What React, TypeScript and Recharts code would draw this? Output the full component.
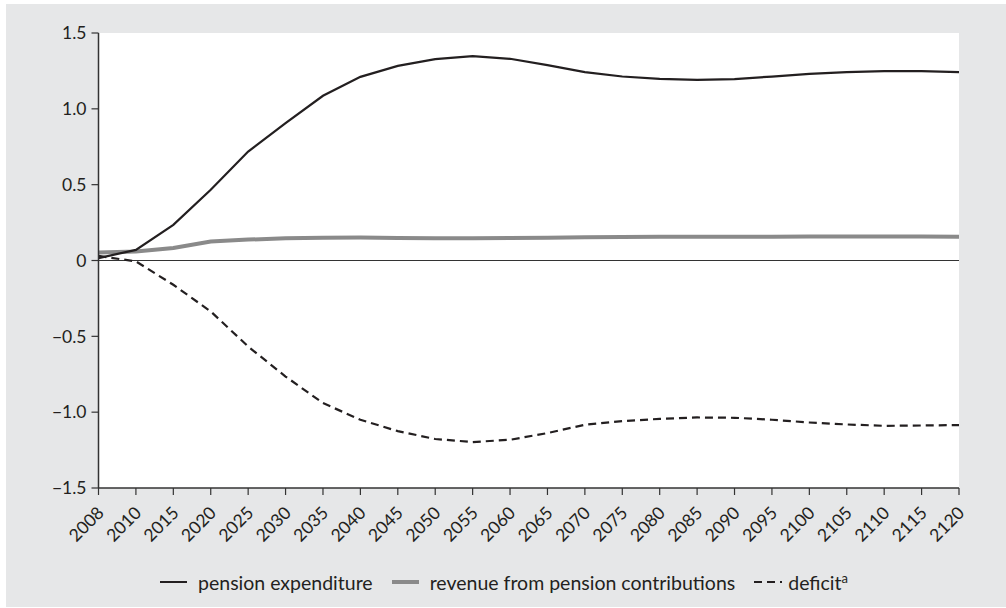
import { LineChart, Line, XAxis, YAxis, CartesianGrid, Legend, ReferenceLine } from 'recharts';

const years = ['2008', '2010', '2015', '2020', '2025', '2030', '2035', '2040', '2045', '2050', '2055', '2060',
  '2065', '2070', '2075', '2080', '2085', '2090', '2095', '2100', '2105', '2110', '2115', '2120'];

const expenditure = [0.016, 0.07, 0.235, 0.466, 0.718, 0.906, 1.086, 1.211, 1.283, 1.328, 1.347, 1.33,
  1.288, 1.242, 1.213, 1.198, 1.191, 1.196, 1.213, 1.231, 1.242, 1.248, 1.248, 1.242];

const revenue = [0.053, 0.06, 0.082, 0.125, 0.138, 0.146, 0.15, 0.151, 0.149, 0.147, 0.146, 0.148,
  0.15, 0.153, 0.155, 0.156, 0.157, 0.157, 0.157, 0.158, 0.158, 0.158, 0.158, 0.157];

const deficit = [0.03, -0.006, -0.16, -0.336, -0.567, -0.765, -0.94, -1.05, -1.125, -1.177, -1.197, -1.182,
  -1.138, -1.083, -1.059, -1.044, -1.035, -1.037, -1.05, -1.068, -1.081, -1.09, -1.088, -1.085];

const yTicks = [-1.5, -1.0, -0.5, 0, 0.5, 1.0, 1.5];

const data = years.map((year, i) => ({
  year,
  expenditure: expenditure[i],
  revenue: revenue[i],
  deficit: deficit[i],
}));

const FONT = 'Lato, "Open Sans", sans-serif';
const INK = '#231f20';

const fmtY = (v: number) => (v === 0 ? '0' : v.toFixed(1).replace('-', '\u2212'));

function YearTick({ x, y, payload }: any) {
  return (
    <g transform={`translate(${x + 6.5},${y + 16}) rotate(-45)`}>
      <text x={0} y={0} textAnchor="end" fill={INK} fontSize={17.5} fontFamily={FONT}>
        {payload.value}
      </text>
    </g>
  );
}

function LegendBox() {
  const item = { display: 'flex', alignItems: 'center', marginRight: 19 } as const;
  return (
    <div style={{ display: 'flex', justifyContent: 'center', alignItems: 'center', height: 40, paddingRight: 4,
      fontFamily: FONT, fontSize: 19.5, color: INK }}>
      <div style={item}>
        <svg width={27} height={10} style={{ marginRight: 11 }}>
          <line x1={0} y1={5} x2={27} y2={5} stroke={INK} strokeWidth={2} />
        </svg>
        <span>pension expenditure</span>
      </div>
      <div style={item}>
        <svg width={27} height={10} style={{ marginRight: 11 }}>
          <line x1={0} y1={5} x2={27} y2={5} stroke="#8a8a8a" strokeWidth={4} />
        </svg>
        <span>revenue from pension contributions</span>
      </div>
      <div style={{ ...item, marginRight: 0 }}>
        <svg width={28} height={10} style={{ marginRight: 6 }}>
          <line x1={0} y1={5} x2={28} y2={5} stroke={INK} strokeWidth={2} strokeDasharray="8 5" />
        </svg>
        <span>
          deficit<sup style={{ fontSize: 13, verticalAlign: 'super', lineHeight: 0 }}>a</sup>
        </span>
      </div>
    </div>
  );
}

export default function App() {
  return (
    <div style={{ position: 'absolute', left: 6, top: 4, width: 1000, height: 603, background: '#e6e7e8' }}>
      <LineChart width={1000} height={603} data={data} margin={{ top: 29, right: 47, left: 0, bottom: 12 }}>
        <CartesianGrid fill="#fff" horizontal={false} vertical={false} />
        <XAxis
          dataKey="year"
          interval={0}
          height={67}
          tick={<YearTick />}
          tickSize={7}
          tickMargin={3}
          axisLine={{ stroke: '#333', strokeWidth: 1.5 }}
          tickLine={{ stroke: '#333', strokeWidth: 1.2 }}
        />
        <YAxis
          width={92.5}
          domain={[-1.5, 1.5]}
          ticks={yTicks}
          tickFormatter={fmtY}
          tickSize={7}
          tickMargin={5}
          tick={{ fill: INK, fontSize: 17.5, fontFamily: FONT }}
          axisLine={{ stroke: '#333', strokeWidth: 1.5 }}
          tickLine={{ stroke: '#333', strokeWidth: 1.2 }}
        />
        <ReferenceLine y={0} stroke="#333" strokeWidth={1} />
        <Legend
          verticalAlign="bottom"
          height={40}
          content={<LegendBox />}
          wrapperStyle={{ left: 0, width: 1000, top: 558, height: 40 }}
        />
        <Line dataKey="revenue" stroke="#8a8a8a" strokeWidth={4} dot={false} isAnimationActive={false} />
        <Line dataKey="expenditure" stroke={INK} strokeWidth={2.2} dot={false} isAnimationActive={false} />
        <Line dataKey="deficit" stroke={INK} strokeWidth={2.2} strokeDasharray="8 5" dot={false} isAnimationActive={false} />
      </LineChart>
    </div>
  );
}
